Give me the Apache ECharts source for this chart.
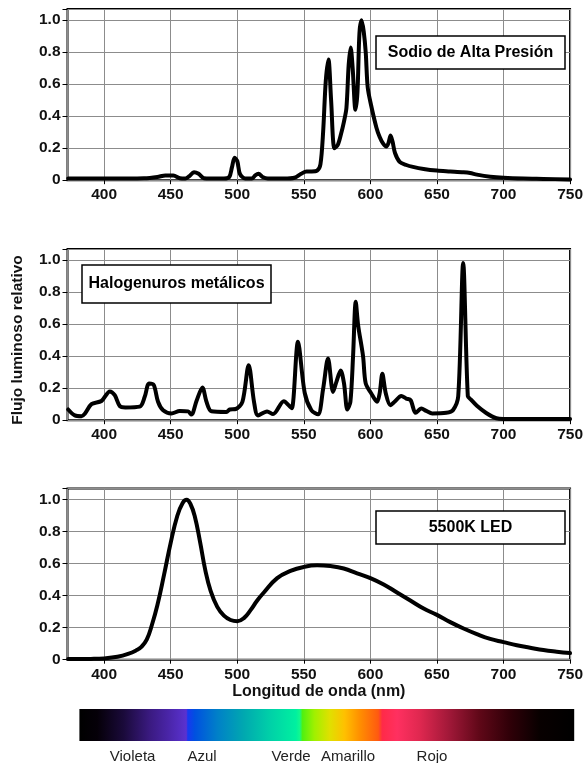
<!DOCTYPE html>
<html>
<head>
<meta charset="utf-8">
<script src="https://cdn.jsdelivr.net/npm/echarts@6/dist/echarts.min.js"></script>
<style>
  html, body { margin: 0; padding: 0; background: #fff; }
  #chart { width: 586px; height: 763px; }
</style>
</head>
<body>
<div id="chart"></div>
<script>
// longitud de onda (nm), flujo relativo
var sodio = [
  [373, 0.01], [400, 0.01], [430, 0.012], [440, 0.02], [446, 0.03], [452, 0.03], [457, 0.012],
  [461, 0.01], [464, 0.025], [467.5, 0.05], [471, 0.04], [475, 0.012], [480, 0.01], [490, 0.01],
  [494, 0.02], [496, 0.08], [498, 0.14], [500, 0.12], [502, 0.04], [506, 0.01], [511, 0.01],
  [513.5, 0.03], [516, 0.04], [519, 0.02], [523, 0.01], [535, 0.01], [543, 0.015], [548, 0.04],
  [552, 0.055], [556, 0.055], [560, 0.06], [562.5, 0.1], [564.5, 0.3], [566.5, 0.62], [568.5, 0.755],
  [570.5, 0.5], [573, 0.2], [575.5, 0.22], [578, 0.29], [580, 0.36], [582, 0.45], [583.7, 0.72],
  [585.2, 0.83], [586.7, 0.7], [588.8, 0.44], [590.3, 0.55], [591.8, 0.92], [593.4, 1.0], [595, 0.93],
  [596.5, 0.8], [598, 0.58], [600.5, 0.47], [604.5, 0.33], [607, 0.27], [609.5, 0.23], [612, 0.21],
  [613.5, 0.23], [615.2, 0.28], [616.7, 0.24], [618.5, 0.17], [622, 0.115], [627, 0.095], [632, 0.083],
  [640, 0.07], [650, 0.06], [660, 0.055], [670, 0.05], [675, 0.045], [680, 0.035], [690, 0.022],
  [700, 0.015], [715, 0.01], [730, 0.008], [750, 0.005]
];

var halogenuros = [
  [373, 0.067], [378, 0.03], [383, 0.025], [385.5, 0.04], [390.5, 0.1], [398, 0.12], [404.3, 0.18],
  [408, 0.156], [411.8, 0.088], [416, 0.08], [426.8, 0.085], [430.5, 0.146], [433.8, 0.23], [437.3, 0.22],
  [440.5, 0.115], [444.3, 0.062], [450.6, 0.042], [456.8, 0.058], [463, 0.055], [465.6, 0.035],
  [469.4, 0.12], [473.8, 0.205], [476.9, 0.115], [480.6, 0.056], [491.9, 0.052], [494.4, 0.067],
  [498.9, 0.07], [503.9, 0.115], [508.6, 0.344], [512.6, 0.115], [515.6, 0.03], [522.4, 0.055],
  [526.9, 0.038], [535, 0.118], [539, 0.09], [541, 0.075], [545.6, 0.49], [550.7, 0.17], [555.7, 0.062],
  [560.7, 0.037], [564.4, 0.19], [568.2, 0.385], [572, 0.177], [574.5, 0.24], [577.7, 0.31], [580.2, 0.23],
  [582.7, 0.067], [585, 0.115], [587, 0.4], [589, 0.74], [590.8, 0.594], [594.5, 0.4], [596.5, 0.23],
  [600.7, 0.167], [605, 0.115], [607, 0.17], [609, 0.29], [611.5, 0.17], [615, 0.094], [618.2, 0.115],
  [623.2, 0.152], [627, 0.135], [630.2, 0.125], [634, 0.046], [638.3, 0.073], [642, 0.058], [646.5, 0.042],
  [657, 0.046], [662, 0.062], [666, 0.15], [669.7, 0.983], [673.2, 0.15], [675.4, 0.13], [680, 0.09],
  [687, 0.045], [694.6, 0.012], [700, 0.008], [750, 0.008]
];

var led = [
  [373, 0.004], [390, 0.005], [400, 0.008], [410, 0.018], [418, 0.036], [424, 0.058], [428, 0.08],
  [432, 0.125], [436, 0.22], [440, 0.34], [445, 0.53], [450, 0.73], [455, 0.9], [459, 0.98], [462, 1.0],
  [465, 0.97], [468, 0.9], [472, 0.74], [476, 0.56], [480, 0.43], [485, 0.33], [490, 0.275], [495, 0.248],
  [500, 0.24], [505, 0.26], [510, 0.31], [515, 0.37], [520, 0.42], [530, 0.51], [540, 0.555], [550, 0.58],
  [560, 0.59], [570, 0.585], [580, 0.57], [590, 0.54], [600, 0.51], [610, 0.47], [620, 0.42], [630, 0.37],
  [640, 0.32], [650, 0.28], [660, 0.235], [670, 0.195], [680, 0.16], [690, 0.13], [700, 0.11], [710, 0.09],
  [720, 0.075], [730, 0.06], [740, 0.05], [750, 0.042]
];

var nombres = ['Sodio de Alta Presión', 'Halogenuros metálicos', '5500K LED'];
var colores = ['Violeta', 'Azul', 'Verde', 'Amarillo', 'Rojo'];

// colores de la barra del espectro (posición relativa, color)
var espectro = [
  [0, '#000000'], [0.036, '#050008'], [0.089, '#1a0a3a'], [0.142, '#3a1a80'], [0.18, '#4a25a8'],
  [0.216, '#5a32d0'], [0.219, '#1838f0'], [0.233, '#0050e0'], [0.279, '#0080c8'], [0.332, '#00a8b0'],
  [0.385, '#00d0a8'], [0.4375, '#00f0a0'], [0.445, '#10f890'], [0.451, '#50f010'], [0.475, '#a0f000'],
  [0.506, '#e0e000'], [0.536, '#ffc000'], [0.566, '#ff9000'], [0.604, '#ff5a10'], [0.612, '#ff2a48'],
  [0.642, '#ff3060'], [0.687, '#e02850'], [0.748, '#a01838'], [0.808, '#600818'], [0.869, '#300008'],
  [0.93, '#080000'], [1, '#000000']
];

var font = 'Liberation Sans, Arial, Helvetica, sans-serif';
var tops = [9, 249, 488.5];
var series = [sodio, halogenuros, led];
var suave = [0.3, 0.3, 0.45];

var grids = [], xAxes = [], yAxes = [], seriesList = [];
for (var i = 0; i < 3; i++) {
  grids.push({
    left: 67.5, width: 503, top: tops[i], height: 171.2,
    show: true, borderColor: '#000', borderWidth: 2, backgroundColor: '#fff'
  });
  xAxes.push({
    type: 'value', gridIndex: i, min: 372.5, max: 750, minInterval: 50, maxInterval: 50,
    axisLine: { show: false },
    axisTick: { show: true, length: 4, lineStyle: { color: '#000', width: 1 } },
    axisLabel: {
      margin: 7, color: '#111', fontSize: 15.5, fontWeight: 'bold', fontFamily: font,
      showMinLabel: false,
      formatter: function (v) { return v % 50 === 0 ? String(v) : ''; }
    },
    splitLine: { show: true, lineStyle: { color: '#8c8c8c', width: 1 } },
    name: i === 2 ? 'Longitud de onda (nm)' : '',
    nameLocation: 'middle', nameGap: 23,
    nameTextStyle: { color: '#111', fontSize: 16, fontWeight: 'bold', fontFamily: font }
  });
  yAxes.push({
    type: 'value', gridIndex: i, min: 0, max: 1.07, interval: 0.2,
    axisLine: { show: false },
    axisTick: { show: true, length: 5, lineStyle: { color: '#000', width: 1 } },
    axisLabel: {
      margin: 7, color: '#111', fontSize: 15.5, fontWeight: 'bold', fontFamily: font,
      formatter: function (v) {
        if (Math.abs(v * 5 - Math.round(v * 5)) > 1e-6) return '';
        return v === 0 ? '0' : v.toFixed(1);
      }
    },
    splitLine: { show: true, lineStyle: { color: '#8c8c8c', width: 1 } }
  });
  seriesList.push({
    type: 'line', name: nombres[i], xAxisIndex: i, yAxisIndex: i,
    data: series[i], showSymbol: false, smooth: suave[i], silent: true,
    lineStyle: { color: '#000', width: 4, join: 'round', cap: 'round' }, z: 5
  });
}

// cajas con los nombres
var cajas = [[376, 36, 189, 33], [82, 265, 189, 38], [376, 511, 189, 33]];
var graphics = [];
cajas.forEach(function (c, i) {
  graphics.push({
    type: 'rect', z: 10, shape: { x: c[0], y: c[1], width: c[2], height: c[3] },
    style: { fill: '#fff', stroke: '#000', lineWidth: 1.5 }
  });
  graphics.push({
    type: 'text', z: 11, x: c[0] + c[2] / 2, y: c[1] + c[3] / 2,
    style: {
      text: nombres[i], fill: '#000', font: 'bold 16px ' + font,
      textAlign: 'center', textVerticalAlign: 'middle'
    }
  });
});

graphics.push({
  type: 'text', x: 18, y: 340, rotation: Math.PI / 2,
  style: {
    text: 'Flujo luminoso relativo', fill: '#111', font: 'bold 15.5px ' + font,
    textAlign: 'center', textVerticalAlign: 'middle'
  }
});

graphics.push({
  type: 'rect', shape: { x: 79.4, y: 709, width: 494.8, height: 32 },
  style: {
    fill: new echarts.graphic.LinearGradient(0, 0, 1, 0, espectro.map(function (s) {
      return { offset: s[0], color: s[1] };
    }))
  }
});

var etiquetaX = [132.6, 202, 291, 348, 432];
colores.forEach(function (t, i) {
  graphics.push({
    type: 'text', x: etiquetaX[i], y: 757,
    style: { text: t, fill: '#222', font: '15px ' + font, textAlign: 'center', textVerticalAlign: 'middle' }
  });
});

var chart = echarts.init(document.getElementById('chart'));
chart.setOption({
  animation: false,
  backgroundColor: '#fff',
  grid: grids,
  xAxis: xAxes,
  yAxis: yAxes,
  series: seriesList,
  graphic: graphics
});
</script>
</body>
</html>
